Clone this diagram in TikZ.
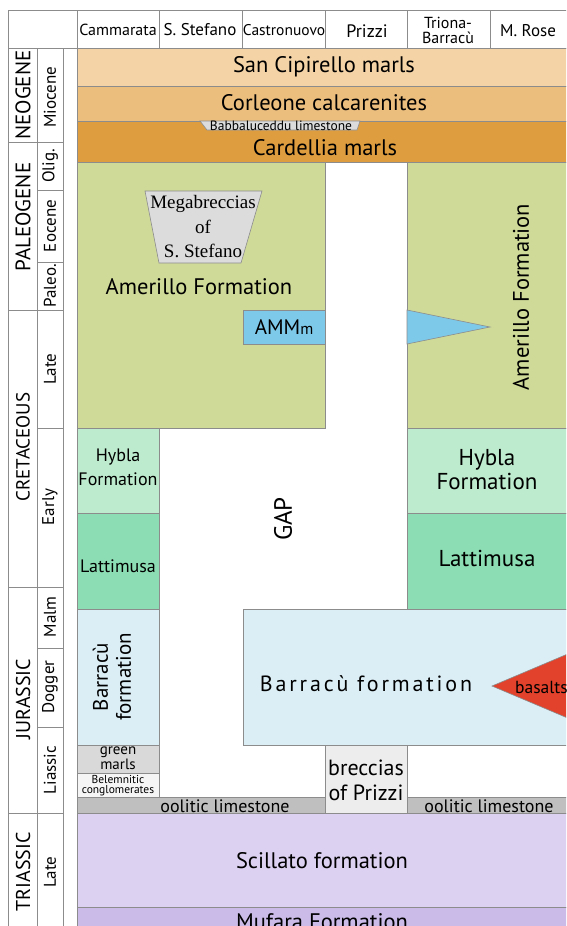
\documentclass[tikz,border=0pt]{standalone}
\usepackage{fontspec}
\setmainfont{PT Sans}
\newfontfamily\brecfont{Liberation Serif}
\usetikzlibrary{positioning}

\definecolor{cipirello}{HTML}{F4D3A6}
\definecolor{corleone}{HTML}{ECBE7E}
\definecolor{cardellia}{HTML}{DE9D3F}
\definecolor{amerillo}{HTML}{CFDA98}
\definecolor{hybla}{HTML}{BDEBCD}
\definecolor{lattimusa}{HTML}{8CDDB3}
\definecolor{barracu}{HTML}{DBEEF6}
\definecolor{ammm}{HTML}{7DC9E9}
\definecolor{basalt}{HTML}{E2412B}
\definecolor{greenmarl}{HTML}{D9D9D9}
\definecolor{belemn}{HTML}{F5F5F5}
\definecolor{oolite}{HTML}{BFBFBF}
\definecolor{brecprizzi}{HTML}{EDEDED}
\definecolor{scillato}{HTML}{DDD1F1}
\definecolor{mufara}{HTML}{CBBBE9}
\definecolor{megab}{HTML}{DCDCDC}
\definecolor{edge}{HTML}{8C8C8C}

\begin{document}
\begin{tikzpicture}[x=1pt, y=-1pt,
				unit/.style={draw=edge, line width=0.6pt},
				grid/.style={draw=edge, line width=0.6pt},
				big/.style={font=\fontsize{22.5}{25}\selectfont, inner sep=0pt, align=center},
				mid/.style={font=\fontsize{18}{24}\selectfont, inner sep=0pt, align=center},
				hdr/.style={font=\fontsize{16}{15}\selectfont, inner sep=0pt, align=center},
				period/.style={font=\fontsize{20}{20}\selectfont, inner sep=0pt, rotate=90},
				epoch/.style={font=\fontsize{17}{17}\selectfont, inner sep=0pt, rotate=90}	]
				\useasboundingbox (0,0) rectangle (566,926);
				\clip (0,0) rectangle (566,926);
				\fill[white] (0,0) rectangle (566,926);
				
				% Neogene strata
				\draw[unit, fill=cipirello] (77,48) rectangle (570,86);
				\draw[unit, fill=corleone] (77,86) rectangle (570,121);
				\draw[unit, fill=cardellia] (77,121) rectangle (570,162);
				\draw[unit, fill=megab] (200,121) -- (360,121) -- (357,130) -- (207,130) -- cycle;
				\node[big] (cipi) at (324,67) {San Cipirello marls};
				\node[big] (corl) at (324,103) {Corleone calcarenites};
				\node[big] (card) at (325,148) {Cardellia marls};
				\node[font=\fontsize{13.5}{13}\selectfont, inner sep=0pt] (babba) at (281,126) {Babbaluceddu limestone};
				
				% Amerillo
				\draw[unit, fill=amerillo] (77,162) rectangle (325,428);
				\draw[unit, fill=amerillo] (407,162) rectangle (570,428);
				\draw[unit, fill=megab] (145,191) -- (262,191) -- (241,263) -- (159,263) -- cycle;
				\node[font=\brecfont\fontsize{19}{24.5}\selectfont, align=center, inner sep=0pt] (megabr) at (203,227) {Megabreccias\\of\\S. Stefano};
				\node[big] (amerL) at (199,287) {Amerillo Formation};
				\draw[unit, fill=ammm] (243,310) rectangle (325,344);
				\node[font=\fontsize{21}{21}\selectfont, inner sep=0pt] (ammL) at (284,327) {AMM{\fontsize{16}{16}\selectfont m}};
				\draw[unit, fill=ammm] (407,310) -- (490,327) -- (407,344) -- cycle;
				\node[big, rotate=90] (amerR) at (521,297) {Amerillo Formation};
				
				% Hybla and Lattimusa
				\draw[unit, fill=hybla] (77,428) rectangle (159,513);
				\draw[unit, fill=lattimusa] (77,513) rectangle (159,609);
				\draw[unit, fill=hybla] (407,428) rectangle (570,513);
				\draw[unit, fill=lattimusa] (407,513) rectangle (570,609);
				\node[mid] (hyblaL) at (118,467) {Hybla\\Formation};
				\node[mid] (lattL) at (118,566) {Lattimusa};
				\node[big, font=\fontsize{23}{24}\selectfont] (hyblaR) at (487,470) {Hybla\\Formation};
				\node[big, font=\fontsize{23}{24}\selectfont] (lattR) at (487,558) {Lattimusa};
				\node[big, font=\fontsize{25}{25}\selectfont, rotate=90] (gap) at (283,519) {GAP};
				
				% Barracu
				\draw[unit, fill=barracu] (77,609) rectangle (159,745);
				\draw[unit, fill=barracu] (243,609) rectangle (570,745);
				\node[big, font=\fontsize{21}{23}\selectfont, rotate=90] (barrL) at (112,677) {Barracù\\formation};
				\node[big, font=\fontsize{22}{24}\selectfont\addfontfeature{LetterSpace=13}] (barrR) at (366,684) {Barracù formation};
				\draw[unit, fill=basalt] (492,686) -- (570,653) -- (570,719) -- cycle;
				\node[font=\fontsize{17.5}{17}\selectfont, inner sep=0pt, anchor=west] (bas) at (515,687) {basalts};
				
				% Liassic units
				\draw[unit, fill=greenmarl] (77,745) rectangle (159,773);
				\draw[unit, fill=belemn] (77,773) rectangle (159,797);
				\node[font=\fontsize{15}{11}\selectfont, align=center, inner sep=0pt] (gmarl) at (118,758) {green\\marls};
				\node[font=\fontsize{11.5}{10}\selectfont, align=center, inner sep=0pt] (belem) at (118,786) {Belemnitic\\conglomerates};
				\draw[unit, fill=oolite] (77,797) rectangle (325,813);
				\draw[unit, fill=oolite] (407,797) rectangle (570,813);
				\draw[unit, fill=brecprizzi] (325,745) rectangle (407,813);
				\node[font=\fontsize{18}{18}\selectfont, inner sep=0pt] (oolL) at (225,806) {oolitic limestone};
				\node[font=\fontsize{18}{18}\selectfont, inner sep=0pt] (oolR) at (489,806) {oolitic limestone};
				\node[font=\fontsize{22}{25}\selectfont, align=center, inner sep=0pt] (brecP) at (366,780) {breccias\\of Prizzi};
				
				% Triassic
				\draw[unit, fill=scillato] (77,813) rectangle (570,907);
				\draw[unit, fill=mufara] (77,907) rectangle (570,940);
				\node[big] (scil) at (322,861) {Scillato formation};
				\node[big] (mufa) at (322,922) {Mufara Formation};
				
				% time scale frame
				\draw[grid] (8,10) -- (570,10);
				\draw[grid] (8,48) -- (570,48);
				\draw[grid] (8,10) -- (8,940);
				\draw[grid] (37,48) -- (37,940);
				\draw[grid] (63,48) -- (63,940);
				\foreach \xh in {77,159,242,325,407,490}
					\draw[grid] (\xh,10) -- (\xh,48);
				\foreach \yp in {142,310,587,813}
					\draw[grid] (8,\yp) -- (37,\yp);
				\foreach \ye in {142,190,262,310,428,587,648,727,813}
					\draw[grid] (37,\ye) -- (63,\ye);
				
				% header
				\node[hdr] (camm) at (118,30) {Cammarata};
				\node[hdr, font=\fontsize{17}{17}\selectfont] (sste) at (200,30) {S. Stefano};
				\node[hdr, font=\fontsize{15.5}{15}\selectfont] (cast) at (284,30) {Castronuovo};
				\node[hdr, font=\fontsize{18}{18}\selectfont] (priz) at (367,31) {Prizzi};
				\node[hdr] (trio) at (448,30) {Triona-\\Barracù};
				\node[hdr, font=\fontsize{17}{17}\selectfont] (mros) at (528,31) {M. Rose};
				
				% periods and epochs
				\node[period, font=\fontsize{21}{21}\selectfont] (neog) at (23,95) {NEOGENE};
				\node[period, font=\fontsize{21}{21}\selectfont] (paleog) at (23,217) {PALEOGENE};
				\node[period, font=\fontsize{19}{19}\selectfont] (creta) at (23,447) {CRETACEOUS};
				\node[period] (jura) at (23,699) {JURASSIC};
				\node[period] (trias) at (23,872) {TRIASSIC};
				\node[epoch] (mioc) at (50,97) {Miocene};
				\node[epoch] (olig) at (50,166) {Olig.};
				\node[epoch] (eoc) at (50,226) {Eocene};
				\node[epoch] (paleo) at (50,286) {Paleo.};
				\node[epoch] (lateK) at (50,369) {Late};
				\node[epoch] (early) at (50,507) {Early};
				\node[epoch] (malm) at (50,617) {Malm};
				\node[epoch] (dogg) at (50,687) {Dogger};
				\node[epoch] (lias) at (50,770) {Liassic};
				\node[epoch] (lateT) at (50,872) {Late};
			\end{tikzpicture}
\end{document}
